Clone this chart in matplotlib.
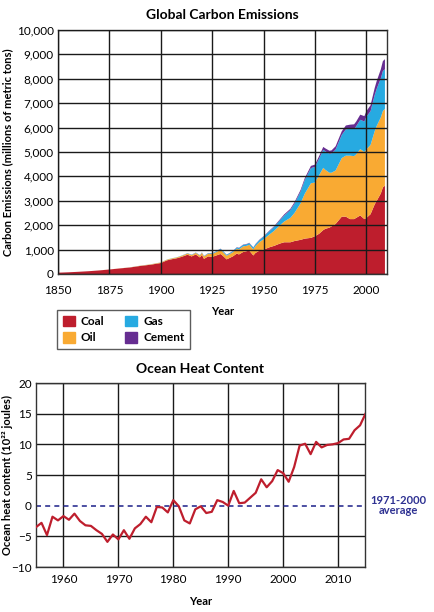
import matplotlib
matplotlib.use("Agg")
import matplotlib.pyplot as plt
from matplotlib.patches import Patch
import numpy as np

plt.rcParams['font.family'] = ['Lato', 'DejaVu Sans']

# ---- Global carbon emissions (millions of metric tons of carbon) ----
years = [1850, 1855, 1860, 1865, 1870, 1875, 1880, 1885, 1890, 1895, 1900, 1903, 1905,
         1908, 1910, 1913, 1915, 1917, 1919, 1920, 1921, 1923, 1925, 1927, 1929, 1930,
         1932, 1934, 1935, 1937, 1938, 1940, 1942, 1943, 1945, 1946, 1948, 1950, 1953,
         1955, 1958, 1960, 1963, 1965, 1968, 1970, 1973, 1975, 1977, 1979, 1980, 1982,
         1983, 1985, 1988, 1990, 1992, 1994, 1995, 1997, 1999, 2000, 2002, 2004, 2005,
         2007, 2008, 2009]
coal = [54, 70, 91, 115, 146, 185, 228, 268, 330, 380, 450, 560, 600,
        650, 700, 790, 720, 800, 680, 780, 620, 720, 700, 760, 820, 760,
        600, 680, 720, 840, 800, 900, 940, 960, 760, 860, 960, 1000, 1100,
        1150, 1250, 1300, 1300, 1350, 1400, 1450, 1480, 1550, 1650, 1800, 1850, 1900,
        1950, 2050, 2350, 2350, 2250, 2250, 2300, 2400, 2250, 2300, 2450, 2850, 3000,
        3300, 3550, 3620]
oil = [0, 0, 0, 0, 1, 2, 3, 5, 10, 15, 23, 28, 30,
       35, 40, 50, 55, 65, 80, 90, 100, 110, 120, 140, 170, 160,
       150, 160, 170, 200, 210, 230, 220, 240, 250, 280, 350, 423, 530,
       610, 750, 849, 1000, 1150, 1500, 1839, 2240, 2200, 2400, 2550, 2420, 2250,
       2200, 2190, 2400, 2500, 2600, 2580, 2600, 2720, 2750, 2810, 2840, 3000, 3070,
       3120, 3130, 3150]
gas = [0, 0, 0, 0, 0, 0, 0, 2, 3, 3, 4, 6, 7,
       8, 9, 12, 13, 14, 15, 15, 16, 20, 25, 30, 40, 40,
       35, 38, 40, 50, 52, 60, 65, 68, 70, 72, 85, 110, 140,
       160, 210, 250, 320, 380, 480, 560, 620, 640, 680, 740, 760, 780,
       790, 860, 950, 1080, 1100, 1120, 1150, 1200, 1250, 1340, 1380, 1480, 1520,
       1600, 1640, 1620]
cement = [0, 0, 0, 0, 0, 0, 0, 0, 0, 0, 0, 0, 0,
          0, 2, 4, 4, 4, 4, 5, 5, 6, 7, 8, 10, 10,
          9, 10, 11, 12, 12, 14, 14, 14, 12, 14, 16, 18, 25,
          30, 38, 43, 52, 60, 70, 78, 90, 95, 105, 118, 120, 122,
          125, 135, 150, 157, 170, 185, 195, 210, 220, 226, 245, 290, 320,
          370, 405, 415]

# ---- Ocean heat content (10^22 joules) ----
ohc_years = list(range(1955, 2016))
ohc = [-3.5, -2.8, -4.8, -1.8, -2.4, -1.7, -2.3, -1.3, -2.5, -3.2,
       -3.3, -4.0, -4.6, -5.9, -4.7, -5.5, -4.0, -5.4, -3.7, -3.0,
       -1.8, -2.7, -0.2, -0.3, -1.1, 0.9, -0.1, -2.4, -2.9, -0.6,
       -0.1, -1.2, -1.0, 0.9, 0.6, 0.0, 2.4, 0.4, 0.5, 1.3,
       2.1, 4.3, 3.0, 4.0, 5.8, 5.3, 3.9, 6.3, 9.8, 10.1,
       8.4, 10.4, 9.5, 9.9, 10.0, 10.2, 10.8, 10.9, 12.3, 13.1,
       15.0]

c_coal = '#BE1E2D'
c_oil = '#F9AA33'
c_gas = '#27AAE1'
c_cem = '#662D91'
navy = '#2E3192'

fig = plt.figure(figsize=(4.35, 6.12), dpi=100)

# ---------------- Top chart ----------------
ax1 = fig.add_axes([58/435, 1-274/612, 329/435, 244/612])
ax1.stackplot(years, coal, oil, gas, cement,
              colors=[c_coal, c_oil, c_gas, c_cem], linewidth=0, zorder=1)
ax1.set_xlim(1850, 2010)
ax1.set_ylim(0, 10000)
ax1.set_xticks([1850, 1875, 1900, 1925, 1950, 1975, 2000])
ax1.set_yticks(np.arange(0, 10001, 1000))
ax1.set_yticklabels([f"{v:,}" for v in range(0, 10001, 1000)])
ax1.grid(True, color='#1a1a1a', linewidth=1.0, zorder=2)
ax1.set_axisbelow(False)
ax1.tick_params(length=0, labelsize=8.5)
ax1.tick_params(axis='y', pad=3)
ax1.tick_params(axis='x', pad=8)
for s in ax1.spines.values():
    s.set_color('#333333')
    s.set_linewidth(1.0)
ax1.set_title('Global Carbon Emissions', fontsize=10, fontweight='bold', pad=8)
ax1.set_xlabel('Year', fontsize=8, fontweight='bold', labelpad=7)
ax1.set_ylabel('Carbon Emissions (millions of metric tons)', fontsize=8,
               fontweight='bold')
ax1.yaxis.set_label_coords(-(58 - 13) / 329, 0.5)

handles = [Patch(color=c_coal, label='Coal'), Patch(color=c_oil, label='Oil'),
           Patch(color=c_gas, label='Gas'), Patch(color=c_cem, label='Cement')]
leg = fig.legend(handles=handles, ncol=2, loc='upper left',
                 bbox_to_anchor=(57/435, 1-310/612), fontsize=8.5,
                 frameon=True, fancybox=False, edgecolor='#333333',
                 handlelength=1.0, handleheight=1.0, handletextpad=0.5,
                 columnspacing=1.8, labelspacing=0.4, borderpad=0.5,
                 borderaxespad=0)
leg.get_frame().set_linewidth(1.0)
for t in leg.get_texts():
    t.set_fontweight('bold')

# ---------------- Bottom chart ----------------
ax2 = fig.add_axes([36/435, 1-567/612, 329/435, 184/612])
ax2.plot(ohc_years, ohc, color=c_coal, linewidth=1.6, zorder=3)
ax2.axhline(0, color=navy, linestyle=(0, (3, 2.5)), linewidth=1.2, zorder=2)
ax2.set_xlim(1955, 2014.9)
ax2.set_ylim(-10, 20)
ax2.set_xticks([1960, 1970, 1980, 1990, 2000, 2010])
ax2.set_yticks([-10, -5, 0, 5, 10, 15, 20])
ax2.set_yticklabels(['\u221210', '\u22125', '0', '5', '10', '15', '20'])
ax2.grid(True, color='#1a1a1a', linewidth=1.0)
ax2.set_axisbelow(True)
for val, gl in zip(ax2.get_yticks(), ax2.get_ygridlines()):
    if val == 0:
        gl.set_visible(False)
ax2.tick_params(length=0, labelsize=8.5)
ax2.tick_params(axis='y', pad=3)
ax2.tick_params(axis='x', pad=5)
for s in ax2.spines.values():
    s.set_color('#333333')
    s.set_linewidth(1.0)
ax2.set_title('Ocean Heat Content', fontsize=10, fontweight='bold', pad=7)
ax2.set_xlabel('Year', fontsize=8, fontweight='bold', labelpad=8)
ax2.set_ylabel('Ocean heat content (10\u00b2\u00b2 joules)', fontsize=8,
               fontweight='bold')
ax2.yaxis.set_label_coords(-(36 - 13) / 329, 0.5)
ax2.text(1.1, 0.0, '1971-2000\naverage', transform=ax2.get_yaxis_transform(),
         ha='center', va='center', fontsize=8, fontweight='bold', color=navy,
         linespacing=0.95, clip_on=False)

fig.savefig('out.png', dpi=100)
